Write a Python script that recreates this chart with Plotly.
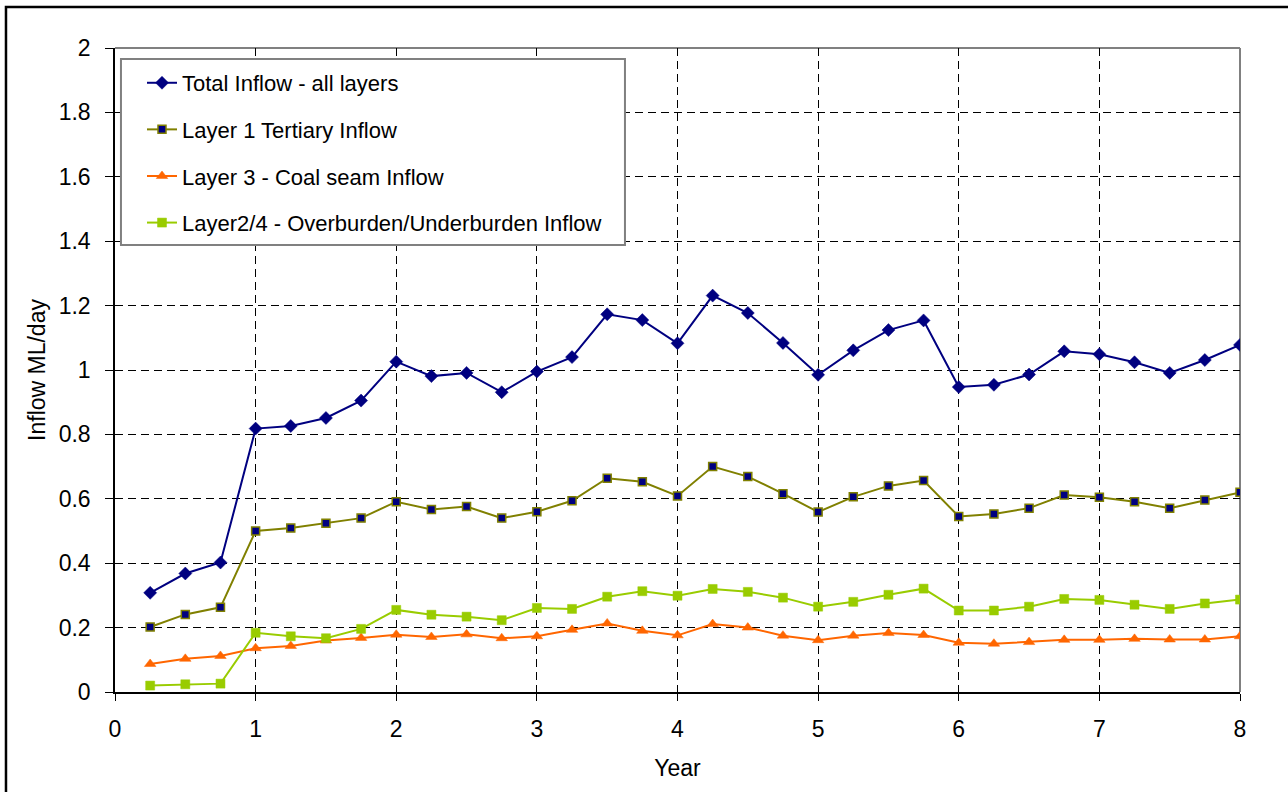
import plotly.graph_objects as go

# Time axis (years) and inflow series (ML/day)
years = [0.25, 0.5, 0.75, 1.0, 1.25, 1.5, 1.75, 2.0, 2.25, 2.5, 2.75, 3.0,
         3.25, 3.5, 3.75, 4.0, 4.25, 4.5, 4.75, 5.0, 5.25, 5.5, 5.75, 6.0,
         6.25, 6.5, 6.75, 7.0, 7.25, 7.5, 7.75, 8.0]

total_inflow = [0.308, 0.368, 0.402, 0.818, 0.826, 0.851, 0.905, 1.026, 0.981, 0.991,
                0.931, 0.995, 1.040, 1.173, 1.155, 1.083, 1.231, 1.177, 1.084, 0.985,
                1.061, 1.124, 1.154, 0.947, 0.954, 0.986, 1.058, 1.049, 1.024, 0.991,
                1.031, 1.078]

layer1_tertiary = [0.202, 0.241, 0.263, 0.500, 0.509, 0.524, 0.540, 0.591, 0.567, 0.576,
                   0.540, 0.560, 0.594, 0.664, 0.653, 0.609, 0.700, 0.669, 0.616, 0.559,
                   0.606, 0.640, 0.657, 0.545, 0.553, 0.571, 0.612, 0.605, 0.591, 0.571,
                   0.596, 0.620]

layer3_coal = [0.087, 0.103, 0.112, 0.136, 0.143, 0.160, 0.168, 0.178, 0.171, 0.179,
               0.167, 0.173, 0.193, 0.213, 0.190, 0.176, 0.211, 0.200, 0.175, 0.161,
               0.175, 0.183, 0.177, 0.153, 0.150, 0.155, 0.162, 0.162, 0.165, 0.163,
               0.163, 0.173]

layer24_over_under = [0.020, 0.024, 0.026, 0.184, 0.173, 0.167, 0.196, 0.255, 0.240, 0.234,
                      0.223, 0.261, 0.258, 0.296, 0.313, 0.299, 0.320, 0.311, 0.293, 0.265,
                      0.280, 0.302, 0.321, 0.253, 0.253, 0.265, 0.289, 0.286, 0.271, 0.258,
                      0.275, 0.287]

series_names = ["Total Inflow - all layers",
                "Layer 1 Tertiary Inflow",
                "Layer 3 - Coal seam Inflow",
                "Layer2/4 - Overburden/Underburden Inflow"]

x_ticks = [0, 1, 2, 3, 4, 5, 6, 7, 8]
y_ticks = [0, 0.2, 0.4, 0.6, 0.8, 1.0, 1.2, 1.4, 1.6, 1.8, 2.0]
y_tick_text = ["0", "0.2", "0.4", "0.6", "0.8", "1", "1.2", "1.4", "1.6", "1.8", "2"]

FONT = "Arial, Liberation Sans, sans-serif"
AXIS_FONT = 23
LEGEND_FONT = 22

fig = go.Figure()

fig.add_trace(go.Scatter(
    x=years, y=total_inflow, name=series_names[0], mode="lines+markers",
    legendgroup="g1",
    line=dict(color="#000080", width=2),
    marker=dict(symbol="diamond", size=10, color="#000080",
                line=dict(color="#000080", width=0.5)),
))
fig.add_trace(go.Scatter(
    x=years, y=layer1_tertiary, name=series_names[1], mode="lines+markers",
    legendgroup="g2",
    line=dict(color="#808000", width=2),
    marker=dict(symbol="square", size=8, color="#000080",
                line=dict(color="#808000", width=1.5)),
))
fig.add_trace(go.Scatter(
    x=years, y=layer3_coal, name=series_names[2], mode="lines+markers",
    legendgroup="g3",
    line=dict(color="#FF6600", width=2),
    marker=dict(symbol="triangle-up", size=10, color="#FF6600",
                line=dict(color="#FF6600", width=0.5)),
))
fig.add_trace(go.Scatter(
    x=years, y=layer24_over_under, name=series_names[3], mode="lines+markers",
    legendgroup="g4",
    line=dict(color="#99CC00", width=2),
    marker=dict(symbol="square", size=9, color="#99CC00",
                line=dict(color="#99CC00", width=0.5)),
))

# Plot-area frame: grey on top and right
frame = [
    dict(x0=0, x1=1, y0=1, y1=1),
    dict(x0=1, x1=1, y0=0, y1=1),
]
shapes = [dict(type="line", xref="paper", yref="paper", layer="between",
               line=dict(color="#808080", width=2), **f) for f in frame]
# Legend panel (white box with grey border) behind the legend entries
shapes.append(dict(type="rect", xref="paper", yref="paper", layer="above",
                   x0=0.0053, x1=0.4533, y0=0.6941, y1=0.9829,
                   line=dict(color="#808080", width=2), fillcolor="white"))
# Outer chart border
shapes.append(dict(type="rect", xref="paper", yref="paper", layer="above",
                   x0=-0.0969, x1=1.06, y0=-0.2, y1=1.0637,
                   line=dict(color="black", width=2.5), fillcolor="rgba(0,0,0,0)"))

fig.update_layout(
    width=1288, height=792,
    margin=dict(l=115, r=48, t=48, b=100),
    paper_bgcolor="white", plot_bgcolor="white",
    font=dict(family=FONT, size=AXIS_FONT, color="black"),
    showlegend=True,
    legend=dict(
        x=0.024, y=0.9783, xanchor="left", yanchor="top",
        bgcolor="rgba(0,0,0,0)", borderwidth=0,
        font=dict(family=FONT, size=LEGEND_FONT, color="black"),
        tracegroupgap=15,
        itemwidth=30,
    ),
    shapes=shapes,
    xaxis=dict(
        range=[0, 8], tickvals=x_ticks, ticktext=[str(v) for v in x_ticks],
        tickfont=dict(size=AXIS_FONT),
        showgrid=True, gridcolor="black", gridwidth=1, griddash="8px,5px",
        showline=True, linecolor="black", linewidth=1.5,
        ticks="outside", ticklen=7, tickcolor="black", tickwidth=1,
        ticklabelstandoff=9,
        zeroline=False,
        title=dict(text="Year", font=dict(size=AXIS_FONT), standoff=19),
    ),
    yaxis=dict(
        range=[0, 2], tickvals=y_ticks, ticktext=y_tick_text,
        tickfont=dict(size=AXIS_FONT),
        showgrid=True, gridcolor="black", gridwidth=1, griddash="8px,5px",
        showline=True, linecolor="black", linewidth=1.5,
        ticks="outside", ticklen=8, tickcolor="black", tickwidth=1,
        ticklabelstandoff=10,
        zeroline=False,
        title=dict(text="Inflow ML/day", font=dict(size=AXIS_FONT), standoff=7),
    ),
)

fig.write_html("out.html")
